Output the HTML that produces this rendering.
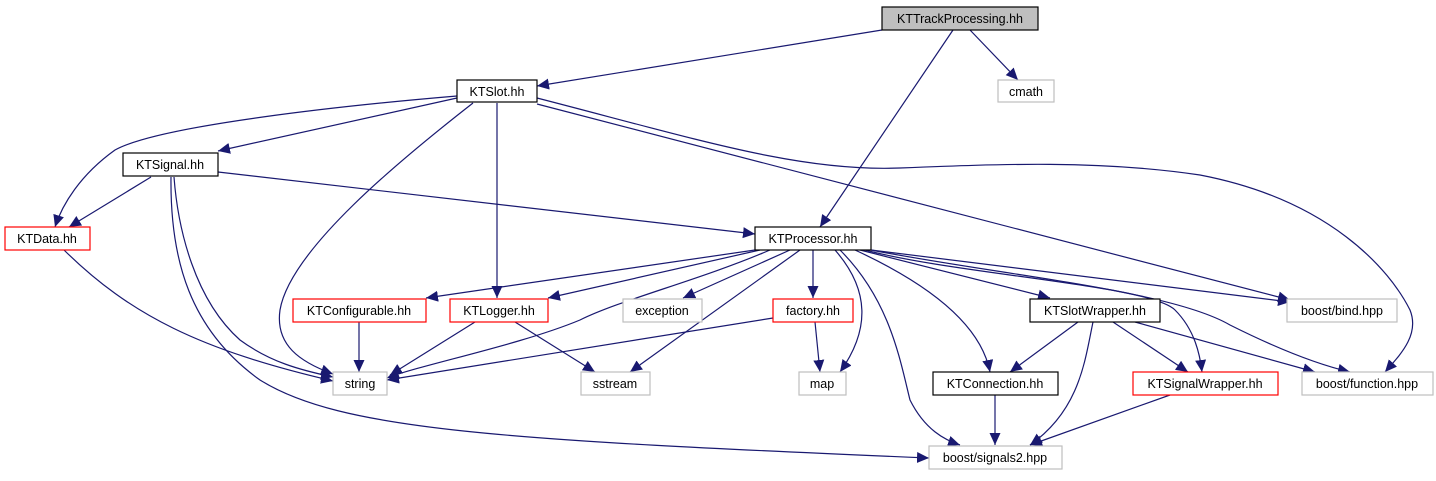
<!DOCTYPE html>
<html><head><meta charset="utf-8"><style>
body{margin:0;background:#fff;width:1436px;height:476px;overflow:hidden}
svg text{font-family:"Liberation Sans",sans-serif;font-size:12.5px;text-anchor:middle}
</style></head><body>
<svg width="1436" height="476" xmlns="http://www.w3.org/2000/svg">
<defs><marker id="a" markerUnits="userSpaceOnUse" markerWidth="14" markerHeight="12" refX="12" refY="5.5" orient="auto"><path d="M0,0L12,5.5L0,11z" fill="#191970"/></marker></defs>
<g fill="none" stroke="#191970" stroke-width="1.2" marker-end="url(#a)">
<path d="M882,30L537,86"/>
<path d="M970,30L1018,80"/>
<path d="M953,30L820,227"/>
<path d="M457,98L218,151"/>
<path d="M457,96C350,105 160,125 115,150C80,175 62,205 55,227"/>
<path d="M151,177L69,227"/>
<path d="M174,177C178,230 195,300 240,340C270,362 300,370 333,377"/>
<path d="M171,177C170,260 190,330 260,380C340,430 500,440 929,458"/>
<path d="M218,172L755,234"/>
<path d="M473,103C400,160 290,250 280,310C275,345 300,362 333,374"/>
<path d="M497,103L497,298"/>
<path d="M537,104L1290,300"/>
<path d="M537,98C700,140 800,172 900,168C1000,164 1100,160 1200,175C1330,200 1390,270 1410,310C1420,335 1400,355 1385,372"/>
<path d="M64,250C130,315 200,350 333,381"/>
<path d="M755,250L426,298"/>
<path d="M760,250L548,298"/>
<path d="M770,250C700,280 620,300 580,320C520,345 420,365 387,378"/>
<path d="M790,250L683,298"/>
<path d="M800,250L630,372"/>
<path d="M813,250L813,298"/>
<path d="M835,250C870,290 870,330 840,372"/>
<path d="M840,250C890,300 900,360 910,400C925,430 945,440 960,445"/>
<path d="M855,250C920,280 980,320 990,372"/>
<path d="M860,250L1050,298"/>
<path d="M865,250C960,275 1150,285 1175,310C1195,330 1200,355 1202,372"/>
<path d="M871,250L1290,302"/>
<path d="M871,250C1000,275 1170,290 1230,325C1280,350 1320,365 1350,372"/>
<path d="M773,318L387,380"/>
<path d="M815,322L820,372"/>
<path d="M359,322L359,372"/>
<path d="M475,322L390,375"/>
<path d="M515,322L595,372"/>
<path d="M1078,322L1010,372"/>
<path d="M1093,322C1085,360 1080,410 1030,445"/>
<path d="M1113,322L1188,372"/>
<path d="M1135,322L1315,372"/>
<path d="M995,395L995,445"/>
<path d="M1170,395L1030,445"/>
</g>
<g stroke-width="1.2">
<rect x="882" y="7" width="156" height="23" fill="#bfbfbf" stroke="#000"/>
<rect x="998" y="80" width="56" height="22" fill="#fff" stroke="#bfbfbf"/>
<rect x="457" y="80" width="80" height="22" fill="#fff" stroke="#000"/>
<rect x="123" y="153" width="95" height="23" fill="#fff" stroke="#000"/>
<rect x="5" y="227" width="85" height="23" fill="#fff" stroke="#f00"/>
<rect x="755" y="227" width="116" height="23" fill="#fff" stroke="#000"/>
<rect x="293" y="299" width="133" height="23" fill="#fff" stroke="#f00"/>
<rect x="450" y="299" width="98" height="23" fill="#fff" stroke="#f00"/>
<rect x="623" y="299" width="79" height="23" fill="#fff" stroke="#bfbfbf"/>
<rect x="773" y="299" width="80" height="23" fill="#fff" stroke="#f00"/>
<rect x="1030" y="299" width="130" height="23" fill="#fff" stroke="#000"/>
<rect x="1287" y="299" width="110" height="23" fill="#fff" stroke="#bfbfbf"/>
<rect x="333" y="372" width="54" height="23" fill="#fff" stroke="#bfbfbf"/>
<rect x="581" y="372" width="69" height="23" fill="#fff" stroke="#bfbfbf"/>
<rect x="799" y="372" width="47" height="23" fill="#fff" stroke="#bfbfbf"/>
<rect x="933" y="372" width="125" height="23" fill="#fff" stroke="#000"/>
<rect x="1133" y="372" width="145" height="23" fill="#fff" stroke="#f00"/>
<rect x="1302" y="372" width="131" height="23" fill="#fff" stroke="#bfbfbf"/>
<rect x="929" y="446" width="133" height="23" fill="#fff" stroke="#bfbfbf"/>
</g>
<g fill="#000">
<text x="960" y="23">KTTrackProcessing.hh</text>
<text x="1026" y="96">cmath</text>
<text x="497" y="96">KTSlot.hh</text>
<text x="170" y="169">KTSignal.hh</text>
<text x="47" y="243">KTData.hh</text>
<text x="813" y="243">KTProcessor.hh</text>
<text x="359" y="315">KTConfigurable.hh</text>
<text x="499" y="315">KTLogger.hh</text>
<text x="662" y="315">exception</text>
<text x="813" y="315">factory.hh</text>
<text x="1095" y="315">KTSlotWrapper.hh</text>
<text x="1342" y="315">boost/bind.hpp</text>
<text x="360" y="388">string</text>
<text x="615" y="388">sstream</text>
<text x="822" y="388">map</text>
<text x="995" y="388">KTConnection.hh</text>
<text x="1205" y="388">KTSignalWrapper.hh</text>
<text x="1367" y="388">boost/function.hpp</text>
<text x="995" y="462">boost/signals2.hpp</text>
</g>
</svg>
</body></html>
